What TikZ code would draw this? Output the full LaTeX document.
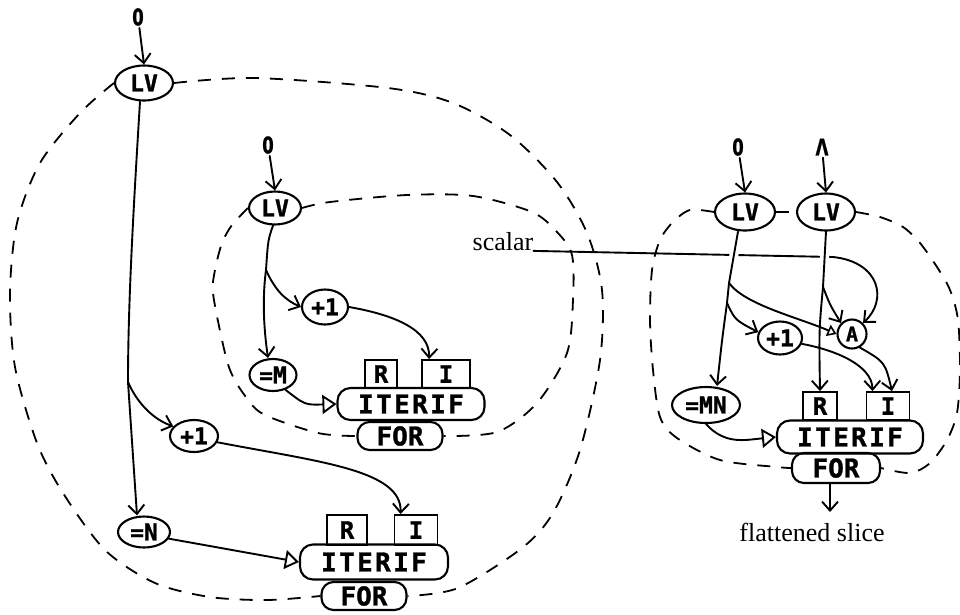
\documentclass[tikz,border=0pt]{standalone}
\usepackage{fontspec}
\setmainfont{Liberation Serif}
\newfontfamily\labfont{DejaVu Sans Mono}[BoldFeatures={FakeBold=1.2}]
\newfontfamily\zerofont{DejaVu Sans}[BoldFeatures={FakeBold=1}]
\usetikzlibrary{shapes.geometric,arrows.meta}
\newcommand\labsize[1]{\labfont\bfseries\fontsize{#1}{#1}\selectfont}
\newcommand\zerotext[1]{\scalebox{0.72}[1]{\zerofont\bfseries\fontsize{23}{23}\selectfont #1}}
\tikzset{
  wire/.style={line width=1.9pt, line cap=round},
  arr/.style={-{Straight Barb[length=9pt,width=16pt,line width=1.9pt]}},
  triarrow/.style={-{Triangle[open,length=14pt,width=19pt,line width=1.9pt]}},
  smalltri/.style={-{Triangle[open,length=9pt,width=12pt,line width=1.6pt]}},
  dashloop/.style={line width=1.8pt, dash pattern=on 13pt off 11pt},
  gapwire/.style={preaction={draw=white,line width=9pt,shorten <=4pt,shorten >=4pt}},
  ell/.style={ellipse, draw, line width=2.1pt, inner sep=0pt, font=\labsize{23}},
  bx/.style={rectangle, draw, line width=1.9pt, inner sep=0pt, font=\labsize{24}},
  pill/.style={rectangle, rounded corners=13pt, draw, line width=2.1pt, inner sep=0pt, font=\labsize{26}},
  zero/.style={inner sep=2pt},
  serif/.style={inner sep=0pt, font=\fontsize{26}{26}\selectfont},
}
\begin{document}
\begin{tikzpicture}[x=1pt,y=-1pt]
\useasboundingbox (0,0) rectangle (960,614);

% ---------- nodes: left outer ----------
\node[zero] (z1) at (138,17) {\zerotext{0}};
\node[ell, minimum width=58pt, minimum height=35pt] (lv1) at (144,83) {LV};
\node[ell, minimum width=48pt, minimum height=32pt] (p1) at (194,436) {+1};
\node[ell, minimum width=52pt, minimum height=31pt] (eqN) at (144,532) {=N};
\node[pill, minimum width=148pt, minimum height=35pt] (it1) at (374,562) {\addfontfeatures{LetterSpace=9}ITERIF};
\node[bx, minimum width=40pt, minimum height=30pt] (R1) at (347,530) {R};
\node[bx, minimum width=43pt, minimum height=30pt] (I1) at (416,530) {I};
\node[pill, rounded corners=12pt, minimum width=85pt, minimum height=28pt] (for1) at (364,596) {FOR};

% ---------- nodes: left inner ----------
\node[zero] (z2) at (268,145) {\zerotext{0}};
\node[ell, minimum width=52pt, minimum height=33pt] (lv2) at (275,208) {LV};
\node[ell, minimum width=46pt, minimum height=35pt] (p2) at (325,307) {+1};
\node[ell, minimum width=47pt, minimum height=32pt] (eqM) at (273,375) {=M};
\node[pill, minimum width=147pt, minimum height=32pt] (it2) at (411,404) {\addfontfeatures{LetterSpace=9}ITERIF};
\node[bx, minimum width=32pt, minimum height=28pt] (R2) at (381,374) {R};
\node[bx, minimum width=48pt, minimum height=28pt] (I2) at (446,374) {I};
\node[pill, rounded corners=12pt, minimum width=85pt, minimum height=28pt] (for2) at (400,436) {FOR};

% ---------- nodes: right ----------
\node[zero] (z3) at (738,147) {\zerotext{0}};
\node[zero] (lam) at (822,147) {\zerotext{Λ}};
\node[ell, minimum width=60pt, minimum height=37pt] (lv3) at (745,212) {LV};
\node[ell, minimum width=58pt, minimum height=37pt] (lv4) at (826,212) {LV};
\node[ell, minimum width=44pt, minimum height=33pt] (p3) at (780,338) {+1};
\node[circle, draw, line width=2.1pt, inner sep=0pt, minimum size=29pt, font=\labsize{20}] (A) at (852,334) {A};
\node[ell, minimum width=68pt, minimum height=36pt] (eqMN) at (706,405) {=MN};
\node[pill, minimum width=146pt, minimum height=33pt] (it3) at (850,437) {\addfontfeatures{LetterSpace=9}ITERIF};
\node[bx, minimum width=34pt, minimum height=28pt] (R3) at (820,406) {R};
\node[bx, minimum width=43pt, minimum height=28pt] (I3) at (888,406) {I};
\node[pill, rounded corners=12pt, minimum width=88pt, minimum height=30pt] (for3) at (836,468) {FOR};
\node[serif] (scal) at (503,242) {scalar};
\node[serif] (slice) at (812,532) {flattened slice};

% ---------- dashed loops ----------
\draw[dashloop] plot[smooth] coordinates {(lv1.east) (255,78) (388,88) (453,103) (510,135) (557,182) (587,233) (602,290) (600,360) (580,450) (553,513) (522,548) (458,588) (for1.east)};
\draw[dashloop] plot[smooth] coordinates {(lv1.west) (80,113) (40,163) (17,223) (10,293) (15,367) (37,443) (63,493) (105,550) (155,583) (210,597) (267,600) (for1.west)};
\draw[dashloop] plot[smooth] coordinates {(lv2.east) (330,202) (407,195) (473,196) (532,212) (557,232) (572,255) (573,300) (567,353) (537,403) (497,432) (for2.east)};
\draw[dashloop] plot[smooth] coordinates {(lv2.west) (232,225) (222,243) (215,270) (213,293) (222,340) (230,370) (243,393) (263,414) (318,433) (for2.west)};
\draw[dashloop] plot[smooth] coordinates {(lv3.west) (690,210) (673,222) (660,240) (652,270) (650,320) (653,370) (660,417) (677,438) (720,460) (777,467) (for3.west)};
\draw[dashloop] plot[smooth] coordinates {(lv4.east) (880,217) (903,227) (920,243) (937,267) (950,290) (958,320) (960,370) (957,413) (947,440) (930,463) (910,473) (for3.east)};
\draw[dashloop] (lv3.east) -- (lv4.west);

% ---------- wires: left outer ----------
\draw[wire,arr] (z1) -- (lv1.north);
\coordinate (b1) at (128,382);
\draw[wire] ([xshift=-4pt]lv1.south) .. controls (134,200) and (128,300) .. (b1);
\draw[wire,arr] (b1) -- ([xshift=-7pt]eqN.north);
\draw[wire,arr] (b1) .. controls (138,405) and (155,420) .. (p1.155);
\draw[wire,arr] (p1.-15) .. controls (320,462) and (402,470) .. ([xshift=7pt]I1.north west);
\draw[wire,triarrow] (eqN.-15) -- (it1.west);

% ---------- wires: left inner ----------
\draw[wire,arr] (z2) -- (lv2.north);
\coordinate (b2) at (266,270);
\draw[wire] ([xshift=-2pt]lv2.south) .. controls (268,240) .. (b2);
\draw[wire,arr] (b2) .. controls (262,300) and (264,330) .. ([xshift=-5pt]eqM.north);
\draw[wire,arr] (b2) .. controls (275,290) and (285,300) .. (p2.west);
\draw[wire,arr] (p2.east) .. controls (395,315) and (430,330) .. ([xshift=8pt]I2.north west);
\draw[wire,triarrow] (eqM.-50) .. controls (305,405) .. (it2.west);

% ---------- wires: right ----------
\coordinate (sc1) at (833,257);
\draw[wire,arr] (scal.base east) -- (sc1) .. controls (880,262) and (888,300) .. (A.north east);
\draw[wire,arr] (z3) -- (lv3.north);
\draw[wire,arr] (lam) -- (lv4.north);
\coordinate (b3a) at (729,283);
\coordinate (b3b) at (727,303);
\coordinate (b4) at (823,287);
\draw[wire,gapwire] ([xshift=-7pt]lv3.south) -- (b3a);
\draw[wire] (b3a) -- (b3b);
\draw[wire,arr] (b3b) .. controls (722,340) .. ([xshift=11pt]eqMN.north);
\draw[wire,gapwire] (lv4.south) -- (b4);
\draw[wire,arr] (b4) .. controls (819,330) .. (R3.north);
\draw[wire,smalltri] (b3a) .. controls (745,305) and (800,318) .. (A.west);
\draw[wire,arr] (b3b) .. controls (735,320) .. (p3.165);
\draw[wire,arr] (b4) .. controls (830,305) .. (A.north west);
\draw[wire,arr] (p3.-15) .. controls (835,350) and (872,365) .. ([xshift=7pt]I3.north west);
\draw[wire,arr] (A.-60) .. controls (885,362) .. ([xshift=4pt]I3.north);
\draw[wire,triarrow] (eqMN.south) .. controls (725,445) and (745,440) .. (it3.west);
\coordinate (sl) at (830,512);
\draw[wire,arr] (for3.south -| sl) -- (sl);
\end{tikzpicture}
\end{document}
